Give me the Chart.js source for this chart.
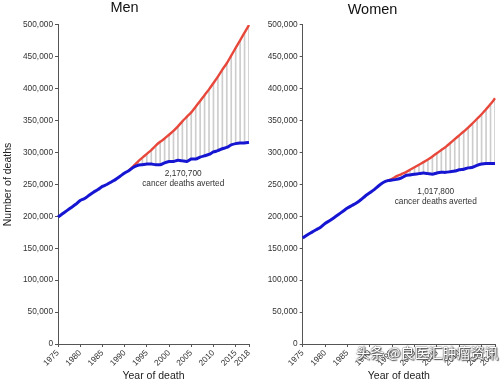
<!DOCTYPE html>
<html><head><meta charset="utf-8">
<script src="https://cdn.jsdelivr.net/npm/chart.js@4"></script>
<style>
html,body{margin:0;padding:0;background:#fff;}
#wrap{position:relative;width:500px;height:382px;overflow:hidden;}
canvas{position:absolute;top:0;}
#cl{left:0}
#cr{left:250px}
#wm{position:absolute;left:356px;top:342px;font:14px "Noto Sans CJK SC";color:#fff;white-space:nowrap;
text-shadow:0 0 1px #444,0 0 2px #555,1px 1px 1px #555;}
</style></head>
<body>
<div id="wrap">
<canvas id="cl" width="250" height="382"></canvas>
<canvas id="cr" width="250" height="382"></canvas>
<div id="wm">头条 @良医汇肿瘤资讯</div>
</div>
<script>
// ---- data ----
const years = [1975,1976,1977,1978,1979,1980,1981,1982,1983,1984,1985,1986,1987,1988,1989,1990,
  1991,1992,1993,1994,1995,1996,1997,1998,1999,2000,2001,2002,2003,2004,2005,2006,2007,2008,2009,
  2010,2011,2012,2013,2014,2015,2016,2017,2018];
const tickYears = [1975,1980,1985,1990,1995,2000,2005,2010,2015,2018];

const menObserved = [199000,204000,209000,214000,219000,225000,228000,233000,238000,242000,247000,
  250000,254000,258000,263000,268000,272000,277000,280000,281000,282000,282000,281000,281000,284000,
  286000,286000,288000,287000,286000,290000,290000,293000,295000,297000,301000,303000,306000,308000,
  312000,314000,315000,315000,316000];
const menExpectedStart = 1991;
const menExpected = [272000,279000,286000,292000,298000,304000,311000,317000,322000,328000,334000,
  341000,349000,356000,363000,372000,381000,390000,399000,409000,419000,430000,440000,452000,464000,
  476000,488000,500000];

const womenObserved = [166000,171000,175000,179000,183000,189000,193000,198000,203000,208000,213000,
  217000,221000,226000,232000,237000,242000,248000,253000,256000,257000,258000,260000,264000,265000,
  266000,267000,268000,267000,266000,268000,269000,269000,270000,271000,273000,274000,276000,277000,
  280000,282000,283000,283000,283000];
const womenExpectedStart = 1994;
const womenExpected = [256000,259000,263000,266000,269000,273000,277000,281000,285000,289000,294000,
  299000,304000,309000,315000,321000,327000,333000,339000,346000,353000,360000,368000,376000,385000];

const menAverted = ['2,170,700', 'cancer deaths averted'];
const womenAverted = ['1,017,800', 'cancer deaths averted'];

const yMin = 0, yMax = 500000, yStep = 50000;

// ---- helpers ----
const FONT = '"Liberation Sans", Arial, sans-serif';
function pad(start, arr){
  return years.map(y => (y >= start && y - start < arr.length) ? arr[y - start] : null);
}
function drops(obs, start, exp){
  return years.map((y, i) => (y >= start && y - start < exp.length) ? [obs[i], exp[y - start]] : null);
}

const notePlugin = {
  id: 'note',
  afterDatasetsDraw(chart, args, opts){
    const {ctx} = chart;
    const x = chart.scales.x, y = chart.scales.y;
    ctx.save();
    ctx.font = '8.3px ' + FONT;
    ctx.fillStyle = '#333';
    ctx.textAlign = 'center';
    ctx.textBaseline = 'middle';
    const px = x.getPixelForValue(opts.atIndex);
    opts.lines.forEach((t, k) => ctx.fillText(t, px, y.getPixelForValue(opts.atValues[k])));
    ctx.restore();
  }
};

function makeChart(id, cfg){
  const labels = years.map(String);
  new Chart(document.getElementById(id), {
    type: 'line',
    data: {
      labels,
      datasets: [
        { type:'line', data: cfg.observed, borderColor:'#1616d2', borderWidth:3, pointRadius:0,
          tension:0.2, order:1 },
        { type:'line', data: pad(cfg.expStart, cfg.expected), borderColor:'#e8483b', borderWidth:2.4,
          pointRadius:0, tension:0.3, spanGaps:false, order:2 },
        { type:'bar', data: drops(cfg.observed, cfg.expStart, cfg.expected), backgroundColor:'#cdcdcd',
          barThickness:1, order:3 }
      ]
    },
    options: {
      responsive:false, animation:false,
      layout:{ padding:{ left:0, right:cfg.padRight, top:0, bottom:0 } },
      plugins:{
        legend:{display:false}, tooltip:{enabled:false},
        title:{ display:true, text:cfg.title, color:'#111',
          font:{ family:FONT, size:14.5, weight:'normal', lineHeight:1.06 },
          padding: cfg.titlePad },
        note:{ atIndex: cfg.noteIndex, atValues: cfg.noteValues, lines: cfg.note }
      },
      scales:{
        x:{
          type:'category', offset:false,
          grid:{ offset:false, drawOnChartArea:false, drawTicks:true, tickLength:3, color:'#555' },
          border:{ display:true, color:'#555', width:1 },
          ticks:{ autoSkip:false, maxRotation:45, minRotation:45, padding:1, color:'#333',
            font:{ family:FONT, size:8.3 },
            callback(v, i){ const yr = years[i]; return tickYears.includes(yr) ? String(yr) : null; } },
          title:{ display:true, text:'Year of death', color:'#222',
            font:{ family:FONT, size:10.5 }, padding:{top:0, bottom:0} },
          afterFit(s){ s.height = 38; s.paddingLeft = 0; s.paddingRight = 0; }
        },
        y:{
          type:'linear', min:yMin, max:yMax,
          grid:{ drawOnChartArea:false, drawTicks:true, tickLength:3, color:'#555' },
          border:{ display:true, color:'#555', width:1 },
          ticks:{ stepSize:yStep, padding:2, color:'#333', font:{ family:FONT, size:8.3 },
            callback(v){ return Number(v).toLocaleString('en-US'); } },
          title:{ display:cfg.yTitle, text:'Number of deaths', color:'#222',
            font:{ family:FONT, size:10.5 }, padding:{top:2, bottom:0} },
          afterFit(s){ s.width = cfg.yWidth; s.paddingTop = 0; s.paddingBottom = 0; }
        }
      }
    },
    plugins:[notePlugin]
  });
}

makeChart('cl', {
  title:'Men', observed:menObserved, expected:menExpected, expStart:menExpectedStart,
  yTitle:true, yWidth:58, padRight:1, titlePad:{top:0, bottom:9.6},
  note:menAverted, noteIndex:28.2, noteValues:[266500, 250500]
});
makeChart('cr', {
  title:'Women', observed:womenObserved, expected:womenExpected, expStart:womenExpectedStart,
  yTitle:false, yWidth:52.7, padRight:5, titlePad:{top:2.3, bottom:7.3},
  note:womenAverted, noteIndex:29.75, noteValues:[238500, 223000]
});
</script>
</body></html>
